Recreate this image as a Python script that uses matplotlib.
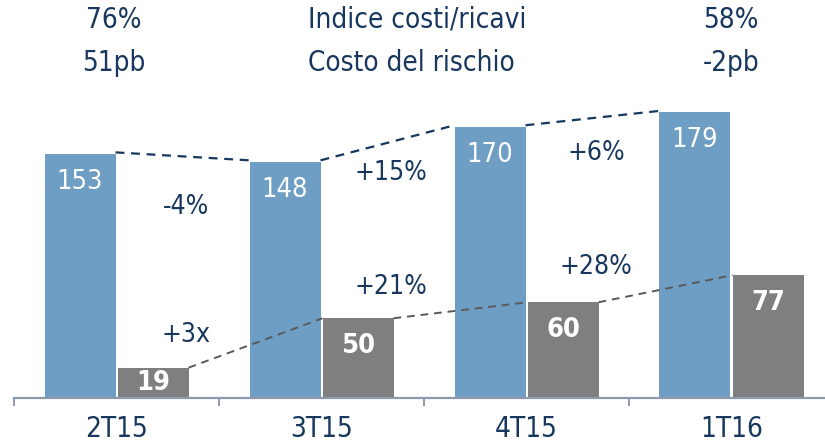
import matplotlib
matplotlib.use('Agg')
import matplotlib.pyplot as plt

# data
quarters = ['2T15', '3T15', '4T15', '1T16']
ricavi = [153, 148, 170, 179]
costi = [19, 50, 60, 77]
delta_ricavi = ['-4%', '+15%', '+6%']
delta_costi = ['+3x', '+21%', '+28%']
header_left = ['76%', '51pb']
header_mid = ['Indice costi/ricavi', 'Costo del rischio']
header_right = ['58%', '-2pb']

navy = '#17375e'
blue = '#6f9ec5'
grey = '#7f7f7f'
axis_col = '#8d99ad'

plt.rcParams['font.family'] = ['DejaVu Sans']
plt.rcParams['font.stretch'] = 'condensed'

W, H = 825, 444
fig = plt.figure(figsize=(W / 100, H / 100), dpi=100)
ax = fig.add_axes([14 / W, 46 / H, (W - 14) / W, 398 / H])

step = 205.0                 # px between categories
bw = 71 / step               # bar width
off = 36.5 / step            # half distance between bar centres
x = list(range(len(quarters)))
xb = [i - off for i in x]
xg = [i + off for i in x]

ax.bar(xb, ricavi, width=bw, color=blue, zorder=2)
ax.bar(xg, costi, width=bw, color=grey, zorder=2)

## dashed connectors between bar tops
for i in range(len(x) - 1):
    ax.plot([xb[i] + bw / 2, xb[i + 1] - bw / 2], [ricavi[i] + 1, ricavi[i + 1] + 1],
            color=navy, lw=1.6, ls=(0, (4, 3)), zorder=3)
    ax.plot([xg[i] + bw / 2, xg[i + 1] - bw / 2], [costi[i], costi[i + 1]],
            color='#5a5a5a', lw=1.4, ls=(0, (4, 3)), zorder=3)

## value labels
for i in x:
    ax.text(xb[i], ricavi[i] - 17.5, str(ricavi[i]), color='white',
            fontsize=19.5, ha='center', va='center', zorder=4)
    yv = costi[i] - 17.5 if costi[i] > 35 else costi[i] / 2
    ax.text(xg[i], yv, str(costi[i]), color='white', fontsize=19.5,
            fontweight='bold', ha='center', va='center', zorder=4)

## growth labels
px_per_unit = 1.595
for i in range(len(x) - 1):
    xm = i + 0.5 - 33 / step
    ax.text(xm, [119.7, 141, 153.6][i], delta_ricavi[i], color=navy,
            fontsize=19, ha='center', va='center')
    ax.text(xm, [39.5, 69.6, 82][i], delta_costi[i], color=navy,
            fontsize=19, ha='center', va='center')

ax.set_xlim(-0.5, (W - 14) / step - 0.5)
ax.set_ylim(0, 398 / px_per_unit)
for s in ['top', 'right', 'left']:
    ax.spines[s].set_visible(False)
ax.spines['bottom'].set_color(axis_col)
ax.spines['bottom'].set_linewidth(1.6)
ax.set_yticks([])
ax.set_xticks(x)
ax.set_xticklabels(quarters, fontsize=20, color=navy)
ax.tick_params(axis='x', which='major', length=0, pad=12.5)
ax.set_xticks([-0.5, 0.5, 1.5, 2.5], minor=True)
ax.tick_params(axis='x', which='minor', length=6, width=1.4, color=axis_col)

## header rows
for row, yy in enumerate([20, 63]):
    fig.text(114 / W, 1 - yy / H, header_left[row], color=navy, fontsize=20,
             ha='center', va='center')
    fig.text(308 / W, 1 - yy / H, header_mid[row], color=navy, fontsize=20,
             ha='left', va='center')
    fig.text(731 / W, 1 - yy / H, header_right[row], color=navy, fontsize=20,
             ha='center', va='center')

fig.savefig('out.png', dpi=100)
